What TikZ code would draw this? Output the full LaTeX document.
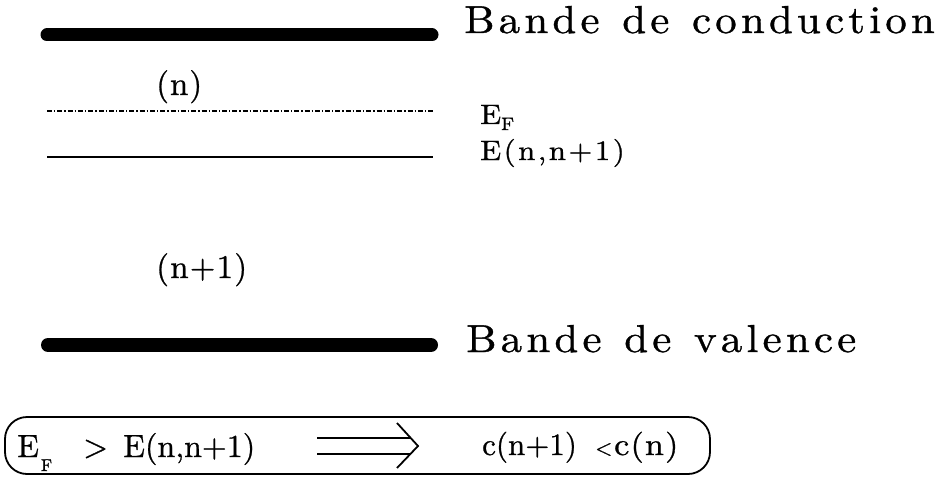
\documentclass[tikz,border=0pt]{standalone}
\usepackage{fontspec}
\setmainfont{lmroman10-regular.otf}[FakeBold=0.8]
\newfontfamily\wfont{lmroman10-regular.otf}[FakeStretch=1.1,FakeBold=0.9]
\makeatletter
\newcommand\lsp[2]{\begingroup\def\lsp@k{#1}\@tfor\lsp@t:=#2\do{\lsp@t\kern\lsp@k}\endgroup}
\makeatother
\tikzset{
  band/.style={line width=13pt, line cap=round},
  lvl/.style={line width=1.8pt},
  lbl/.style={inner sep=0pt, anchor=base west},
  big/.style={font=\wfont\fontsize{39}{39}\selectfont},
  mid/.style={font=\fontsize{32}{32}\selectfont},
  sml/.style={font=\wfont\fontsize{28}{28}\selectfont},
}
\begin{document}
\begin{tikzpicture}[x=1pt,y=-1pt]
\useasboundingbox (0,0) rectangle (941,476);
% bands and levels
\coordinate (cb1) at (47,35);  \coordinate (cb2) at (432,35);
\coordinate (vb1) at (48,345); \coordinate (vb2) at (431,345);
\coordinate (fl1) at (47,111); \coordinate (fl2) at (433,111);
\coordinate (el1) at (47,157); \coordinate (el2) at (433,157);
\draw[band] (cb1) -- (cb2);
\draw[band, line width=14pt] (vb1) -- (vb2);
\draw[line width=1.6pt, dash pattern=on 5pt off 2pt on 1.3pt off 2pt] (fl1) -- (fl2);
\draw[lvl] (el1) -- (el2);
% labels
\node[lbl, big] (bc) at (464,33)  {\lsp{4.2pt}{Bande\ de\ conduction}};
\node[lbl, big] (bv) at (466,352) {\lsp{4.2pt}{Bande\ de\ valence}};
\node[lbl, mid, font=\fontsize{33}{33}\selectfont] (n)  at (156,95)  {\lsp{1pt}{(n)}};
\node[lbl, mid, font=\fontsize{33}{33}\selectfont] (n1) at (156,278) {\lsp{1.2pt}{(n+1)}};
\node[lbl, sml] (ef) at (480,124) {E\raisebox{-6pt}{\fontsize{18}{18}\selectfont F}};
\node[lbl, sml] (enn) at (480,160) {\lsp{2.5pt}{E(n,n+1)}};
% box
\node[draw, line width=1.8pt, rounded corners=22pt, minimum width=705pt, minimum height=57pt, inner sep=0pt] (box) at (357.5,445.5) {};
\node[lbl, mid] (bef) at (17,457) {E\kern2pt\raisebox{-14pt}{\fontsize{17}{17}\selectfont F}};
\node[lbl, mid] (gt) at (83,457) {>};
\node[lbl, mid] (ben) at (123,457) {E(n,n+1)};
\coordinate (a1) at (317,438); \coordinate (a2) at (411,438);
\coordinate (b1) at (317,454); \coordinate (b2) at (411,454);
\coordinate (h1) at (397,423); \coordinate (h2) at (418,446); \coordinate (h3) at (397,468);
\draw[lvl] (a1) -- (a2) (b1) -- (b2);
\draw[lvl, line join=miter] (h1) -- (h2) -- (h3);
\node[lbl, font=\fontsize{31}{31}\selectfont] (c1) at (482,455) {c(n+1)};
\node[lbl, font=\fontsize{22}{22}\selectfont] (lt) at (595,455) {<};
\node[lbl, font=\wfont\fontsize{31}{31}\selectfont] (c2) at (614,455) {\lsp{1.2pt}{c(n)}};
\end{tikzpicture}
\end{document}
